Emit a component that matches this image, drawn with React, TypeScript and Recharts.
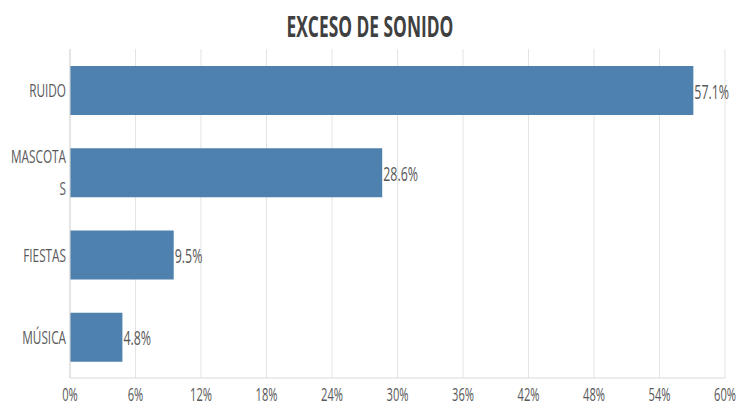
import React from "react";
import { BarChart, Bar, XAxis, YAxis, CartesianGrid, LabelList } from "recharts";

const categories = ["RUIDO", "MASCOTAS", "FIESTAS", "MÚSICA"];
const tickLabels: string[][] = [["RUIDO"], ["MASCOTA", "S"], ["FIESTAS"], ["MÚSICA"]];
const values = [57.1, 28.6, 9.5, 4.8];
const xTicks = [0, 6, 12, 18, 24, 30, 36, 42, 48, 54, 60];
const title = "EXCESO DE SONIDO";

const data = categories.map((name, i) => ({ name, value: values[i], lines: tickLabels[i] }));

const FONT = "'Open Sans', 'DejaVu Sans', sans-serif";
const SX = 0.62;
const TEXT = "#595959";

const Squeezed = ({ x, y, anchor, size, children, weight, fill }: any) => (
  <text
    transform={`translate(${x} ${y}) scale(${SX} 1)`}
    x={0}
    y={0}
    textAnchor={anchor}
    fontSize={size}
    fontFamily={FONT}
    fontWeight={weight || 400}
    fill={fill || TEXT}
  >
    {children}
  </text>
);

const YTick = (props: any) => {
  const { x, y, index } = props;
  const lines = tickLabels[index] || [props.payload.value];
  if (lines.length === 1) {
    return <Squeezed x={x} y={y + 7} anchor="end" size={19}>{lines[0]}</Squeezed>;
  }
  return (
    <g>
      <Squeezed x={x} y={y - 9} anchor="end" size={19}>{lines[0]}</Squeezed>
      <Squeezed x={x} y={y + 23} anchor="end" size={19}>{lines[1]}</Squeezed>
    </g>
  );
};

const XTick = (props: any) => {
  const { x, y, payload } = props;
  return <Squeezed x={x} y={y + 15} anchor="middle" size={18}>{`${payload.value}%`}</Squeezed>;
};

const ValueLabel = (props: any) => {
  const { x, y, width, height, value } = props;
  return (
    <Squeezed x={x + width + 1} y={y + height / 2 + 8} anchor="start" size={20}>
      {`${value}%`}
    </Squeezed>
  );
};

export default function App() {
  return (
    <div style={{ position: "absolute", left: 0, top: 0, width: 738, height: 407, background: "#fff" }}>
      <svg width={738} height={50} style={{ position: "absolute", left: 0, top: 0 }}>
        <Squeezed x={370} y={37} anchor="middle" size={28} weight={700} fill="#404040">
          {title}
        </Squeezed>
      </svg>
      <div style={{ position: "absolute", left: 0, top: 0 }}>
        <BarChart
          width={738}
          height={407}
          data={data}
          layout="vertical"
          margin={{ top: 49, right: 13, bottom: 4, left: 0 }}
        >
          <CartesianGrid horizontal={false} vertical={true} stroke="#e3e3e3" />
          <XAxis
            type="number"
            domain={[0, 60]}
            ticks={xTicks}
            interval={0}
            axisLine={{ stroke: "#d9d9d9" }}
            tickLine={false}
            tickSize={6}
            tickMargin={2}
            height={25}
            tick={<XTick />}
          />
          <YAxis
            type="category"
            dataKey="name"
            width={70}
            axisLine={{ stroke: "#d9d9d9" }}
            tickLine={false}
            tickSize={4}
            tickMargin={0}
            interval={0}
            tick={<YTick />}
          />
          <Bar dataKey="value" fill="#4e81ad" barSize={49} isAnimationActive={false}>
            <LabelList dataKey="value" content={<ValueLabel />} />
          </Bar>
        </BarChart>
      </div>
    </div>
  );
}
